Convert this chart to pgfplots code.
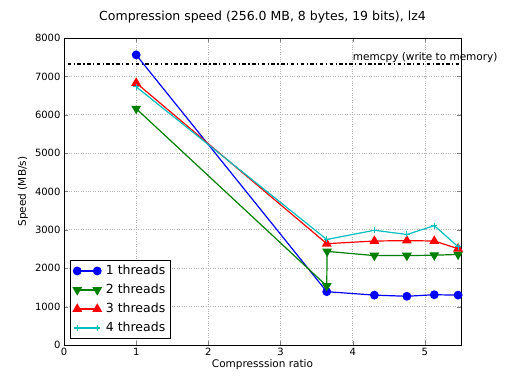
\documentclass[border=0pt]{standalone}
\usepackage{fontspec}
\setmainfont{DejaVu Sans}
\usepackage{pgfplots}
\pgfplotsset{compat=1.18}
\definecolor{mplc}{rgb}{0,0.75,0.75}
\definecolor{mplg}{rgb}{0,0.5,0}
\begin{document}
\begin{tikzpicture}
\begin{axis}[
  at={(0pt,0pt)}, anchor=south west,
  scale only axis, width=397pt, height=307pt,
  xmin=0, xmax=5.5, ymin=0, ymax=8000,
  xtick={0,1,2,3,4,5}, ytick={0,1000,...,8000},
  tick align=inside, ticks=both, tick pos=both,
  major tick length=4pt,
  /pgf/number format/assume math mode=true,
  scaled y ticks=false,
  yticklabel style={/pgf/number format/1000 sep={}},
  tick label style={font=\fontsize{10}{12}\selectfont},
  label style={font=\fontsize{10.5}{12}\selectfont},
  title style={font=\fontsize{12.5}{14}\selectfont, yshift=5pt},
  title={Compression speed (256.0 MB, 8 bytes, 19 bits), lz4},
  xlabel={Compresssion ratio}, ylabel={Speed (MB/s)},
  xlabel style={yshift=3pt}, ylabel style={yshift=0pt},
  grid=major, major grid style={gray!60, dotted, line width=0.8pt},
  axis line style={line width=0.8pt},
  clip mode=individual,
  legend style={at={(0.015,0.02)}, anchor=south west, draw=black, line width=0.8pt,
    font=\fontsize{12.5}{15}\selectfont, row sep=4pt, inner sep=3pt},
  legend cell align=left,
  legend image code/.code={\draw[#1] plot coordinates {(0pt,0pt) (20pt,0pt)}; \path (26pt,0pt);},
]
\addplot[black, line width=2pt, dash pattern=on 1.2pt off 2.5pt on 3.5pt off 2.5pt, forget plot] coordinates {(0,7310) (5.5,7310)};
\node[anchor=west, font=\fontsize{10.5}{12}\selectfont, inner sep=0pt] at (axis cs:4.0,7490) {memcpy (write to memory)};
\addplot[blue, line width=1.2pt, mark=*, mark size=3.8pt, mark options={solid, fill=blue, draw=blue}] coordinates {
(1,7560) (3.64,1390) (4.30,1300) (4.75,1270) (5.13,1310) (5.46,1300)};
\addlegendentry{1 threads}
\addplot[mplg, line width=1.2pt, mark=triangle*, mark size=4.5pt, mark options={solid, rotate=180, fill=mplg, draw=mplg}] coordinates {
(1,6160) (3.64,1540) (3.645,2440) (4.30,2330) (4.75,2330) (5.13,2340) (5.46,2360)};
\addlegendentry{2 threads}
\addplot[red, line width=1.2pt, mark=triangle*, mark size=4.5pt, mark options={solid, fill=red, draw=red}] coordinates {
(1,6830) (3.64,2640) (4.30,2710) (4.75,2720) (5.13,2710) (5.46,2510)};
\addlegendentry{3 threads}
\addplot[mplc, line width=1.2pt, mark=+, mark size=3pt, mark options={solid}] coordinates {
(1,6730) (3.64,2750) (4.30,2990) (4.75,2880) (5.13,3110) (5.46,2560)};
\addlegendentry{4 threads}
\end{axis}
\pgfresetboundingbox
\path (-64pt,-39pt) rectangle (448pt,345pt);
\end{tikzpicture}
\end{document}
